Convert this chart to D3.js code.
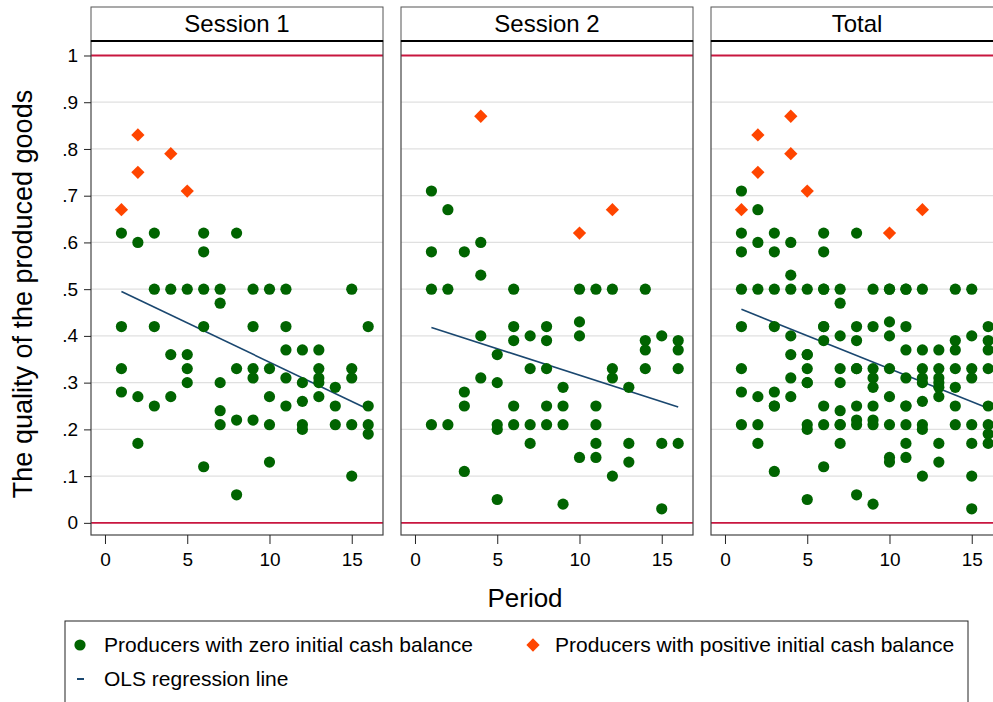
<!DOCTYPE html>
<html>
<head>
<meta charset="utf-8">
<script src="https://cdn.jsdelivr.net/npm/d3@7"></script>
<style>
  body { margin: 0; background: #fff; }
  svg { display: block; font-family: "Liberation Sans", Arial, sans-serif; }
</style>
</head>
<body>
<svg id="chart" width="993" height="702"></svg>
<script>
// values per period (index 0 = period 1)
const periods = [1, 2, 3, 4, 5, 6, 7, 8, 9, 10, 11, 12, 13, 14, 15, 16];

const s1Zero = [
  [.62, .42, .33, .28], [.60, .27, .17], [.62, .50, .42, .25], [.50, .36, .27],
  [.50, .36, .33, .30], [.62, .58, .50, .42, .12], [.50, .47, .30, .24, .21], [.62, .33, .22, .06],
  [.50, .42, .33, .31, .22], [.50, .33, .27, .21, .13], [.50, .42, .37, .31, .25], [.37, .30, .26, .21, .20],
  [.37, .33, .31, .30, .27], [.29, .25, .21], [.50, .33, .31, .21, .10], [.42, .25, .21, .19]
];
const s1Pos = [[.67], [.83, .75], [], [.79], [.71], [], [], [], [], [], [], [], [], [], [], []];

const s2Zero = [
  [.71, .58, .50, .21], [.67, .50, .21], [.58, .28, .25, .11], [.60, .53, .40, .31],
  [.36, .30, .21, .20, .05], [.50, .42, .39, .25, .21], [.40, .33, .21, .17], [.42, .39, .33, .25, .21],
  [.29, .25, .21, .04], [.50, .43, .40, .14], [.50, .25, .21, .17, .14], [.50, .33, .31, .10],
  [.29, .17, .13], [.50, .39, .37, .33], [.40, .17, .03], [.39, .37, .33, .17]
];
const s2Pos = [[], [], [], [.87], [], [], [], [], [], [.62], [], [.67], [], [], [], []];

// fitted OLS line, [period, value] at both ends
const fitS1 = [[1, .495], [16, .243]];
const fitS2 = [[1, .418], [16, .248]];
const fitTotal = [[1, .457], [16, .245]];

const panelTitles = ['Session 1', 'Session 2', 'Total'];
const xTicks = [0, 5, 10, 15];
const yTicks = [0, .1, .2, .3, .4, .5, .6, .7, .8, .9, 1];
const refLines = [0, 1];

const flat = (byPeriod) => byPeriod.flatMap((vals, i) => vals.map((v) => ({ period: periods[i], value: v })));

const panels = [
  { title: panelTitles[0], zero: flat(s1Zero), pos: flat(s1Pos), fit: fitS1 },
  { title: panelTitles[1], zero: flat(s2Zero), pos: flat(s2Pos), fit: fitS2 },
  { title: panelTitles[2], zero: flat(s1Zero).concat(flat(s2Zero)), pos: flat(s1Pos).concat(flat(s2Pos)), fit: fitTotal }
];

const green = '#006400';
const orange = '#ff4500';
const navy = '#1a476f';
const cranberry = '#c8163f';

const svg = d3.select('#chart');
const panelW = 292;
const panelLefts = [91, 401, 711];
const headTop = 7;
const plotTop = 41;
const plotBottom = 535;

const x = d3.scaleLinear().domain([-0.85, 16.9]).range([0, panelW]);
const y = d3.scaleLinear().domain([-0.026, 1.031]).range([plotBottom, plotTop]);

panels.forEach((p, i) => {
  const g = svg.append('g').attr('transform', `translate(${panelLefts[i]},0)`);

  // header strip
  g.append('rect')
    .attr('x', 0).attr('y', headTop).attr('width', panelW).attr('height', plotTop - headTop)
    .attr('fill', '#fff').attr('stroke', '#555').attr('stroke-width', 1);
  g.append('text')
    .attr('x', panelW / 2).attr('y', 32)
    .attr('text-anchor', 'middle').attr('font-size', 24).attr('fill', '#000')
    .text(p.title);

  // grid
  g.append('g')
    .selectAll('line')
    .data(yTicks.filter((t) => !refLines.includes(t)))
    .join('line')
    .attr('x1', 0).attr('x2', panelW)
    .attr('y1', (d) => y(d)).attr('y2', (d) => y(d))
    .attr('stroke', '#e0e0e0').attr('stroke-width', 1.3);

  g.append('g')
    .selectAll('line')
    .data(refLines)
    .join('line')
    .attr('x1', 0).attr('x2', panelW)
    .attr('y1', (d) => y(d)).attr('y2', (d) => y(d))
    .attr('stroke', cranberry).attr('stroke-width', 1.8);

  // fit line
  g.append('line')
    .attr('x1', x(p.fit[0][0])).attr('y1', y(p.fit[0][1]))
    .attr('x2', x(p.fit[1][0])).attr('y2', y(p.fit[1][1]))
    .attr('stroke', navy).attr('stroke-width', 1.6);

  g.append('g')
    .selectAll('circle')
    .data(p.zero)
    .join('circle')
    .attr('cx', (d) => x(d.period))
    .attr('cy', (d) => y(d.value))
    .attr('r', 5.6)
    .attr('fill', green);

  g.append('g')
    .selectAll('path')
    .data(p.pos)
    .join('path')
    .attr('d', d3.symbol(d3.symbolSquare, 88))
    .attr('transform', (d) => `translate(${x(d.period)},${y(d.value)}) rotate(45)`)
    .attr('fill', orange);

  // frame
  g.append('rect')
    .attr('x', 0).attr('y', plotTop).attr('width', panelW).attr('height', plotBottom - plotTop)
    .attr('fill', 'none').attr('stroke', '#444').attr('stroke-width', 1.2);
  g.append('line')
    .attr('x1', 0).attr('x2', panelW).attr('y1', plotTop).attr('y2', plotTop)
    .attr('stroke', '#000').attr('stroke-width', 1.8);

  const xAxis = g.append('g')
    .attr('transform', `translate(0,${plotBottom})`)
    .call(d3.axisBottom(x).tickValues(xTicks).tickSize(9).tickPadding(9).tickSizeOuter(0));
  xAxis.select('.domain').remove();
  xAxis.selectAll('line').attr('stroke', '#222');
  xAxis.selectAll('text').attr('font-size', 19).attr('fill', '#000').attr('font-family', null);
});

// y axis on the first panel
const yAxis = svg.append('g')
  .attr('transform', `translate(${panelLefts[0]},0)`)
  .call(d3.axisLeft(y).tickValues(yTicks).tickSize(7).tickPadding(6)
    .tickFormat((d) => (d === 0 || d === 1 ? String(d) : d3.format('.1f')(d).replace('0.', '.'))));
yAxis.select('.domain').remove();
yAxis.selectAll('line').attr('stroke', '#222');
yAxis.selectAll('text').attr('font-size', 19).attr('fill', '#000').attr('font-family', null);

svg.append('text')
  .attr('transform', 'translate(32,294) rotate(-90)')
  .attr('text-anchor', 'middle').attr('font-size', 27).attr('fill', '#000')
  .text('The quality of the produced goods');

svg.append('text')
  .attr('x', 525).attr('y', 607)
  .attr('text-anchor', 'middle').attr('font-size', 26).attr('fill', '#000')
  .text('Period');

// legend
const legend = svg.append('g');
legend.append('rect')
  .attr('x', 65).attr('y', 621).attr('width', 903).attr('height', 100)
  .attr('fill', '#fff').attr('stroke', '#222').attr('stroke-width', 1);
legend.append('circle').attr('cx', 80).attr('cy', 645).attr('r', 5.6).attr('fill', green);
legend.append('text').attr('x', 104).attr('y', 652).attr('font-size', 21).text('Producers with zero initial cash balance');
legend.append('path')
  .attr('d', d3.symbol(d3.symbolSquare, 88))
  .attr('transform', 'translate(533,645) rotate(45)')
  .attr('fill', orange);
legend.append('text').attr('x', 555).attr('y', 652).attr('font-size', 21).text('Producers with positive initial cash balance');
legend.append('line').attr('x1', 77).attr('x2', 84).attr('y1', 679).attr('y2', 679).attr('stroke', navy).attr('stroke-width', 2);
legend.append('text').attr('x', 104).attr('y', 686).attr('font-size', 21).text('OLS regression line');
</script>
</body>
</html>
